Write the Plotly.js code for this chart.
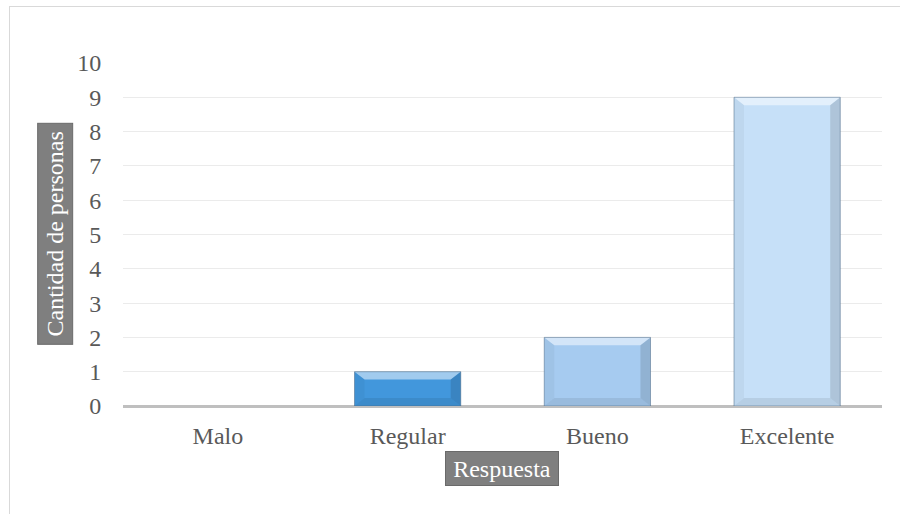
<!DOCTYPE html>
<html>
<head>
<meta charset="utf-8">
<script src="https://cdn.plot.ly/plotly-3.0.1.min.js"></script>
<style>
  html, body { margin: 0; padding: 0; background: #ffffff; }
  #wrap { position: relative; width: 900px; height: 514px; overflow: hidden; }
  #chart { position: absolute; left: 0; top: 0; width: 900px; height: 514px; }
  #frame { position: absolute; left: 9px; top: 6px; width: 1000px; height: 1000px;
           border: 1px solid #d9d9d9; pointer-events: none; }
</style>
</head>
<body>
<div id="wrap">
  <div id="chart"></div>
  <div id="frame"></div>
</div>
<script>
// Survey answers and how many people gave each one
const categories = ['Malo', 'Regular', 'Bueno', 'Excelente'];
const counts = [0, 1, 2, 9];
const barColors = ['#4297dc', '#4297dc', '#a6cbf0', '#c6e0f8'];
const yTickVals = [0, 1, 2, 3, 4, 5, 6, 7, 8, 9, 10];

const FONT = 'Liberation Serif, Times New Roman, serif';
const FONT_SIZE = 24;
const BAR_WIDTH = 0.56;

// Bevel facets drawn over each bar, in axis units
const BEVEL_DX = 0.053;
const BEVEL_DY = 0.23;

function poly(pts) {
  return 'M' + pts.map(p => p[0] + ',' + p[1]).join(' L') + ' Z';
}

const shapes = [];
counts.forEach((v, i) => {
  if (v <= 0) return;
  const x0 = i - BAR_WIDTH / 2, x1 = i + BAR_WIDTH / 2;
  const dy = Math.min(BEVEL_DY, v / 2);
  const facets = [
    { pts: [[x0, v], [x1, v], [x1 - BEVEL_DX, v - dy], [x0 + BEVEL_DX, v - dy]], fill: 'rgba(255,255,255,0.5)' },
    { pts: [[x0, 0], [x0, v], [x0 + BEVEL_DX, v - dy], [x0 + BEVEL_DX, dy]], fill: 'rgba(0,0,0,0.04)' },
    { pts: [[x1, 0], [x1, v], [x1 - BEVEL_DX, v - dy], [x1 - BEVEL_DX, dy]], fill: 'rgba(0,0,0,0.12)' },
    { pts: [[x0, 0], [x1, 0], [x1 - BEVEL_DX, dy], [x0 + BEVEL_DX, dy]], fill: 'rgba(0,0,0,0.08)' }
  ];
  facets.forEach(f => shapes.push({
    type: 'path', xref: 'x', yref: 'y', layer: 'above',
    path: poly(f.pts), fillcolor: f.fill, line: { width: 0 }
  }));
  shapes.push({
    type: 'rect', xref: 'x', yref: 'y', layer: 'above',
    x0: x0, x1: x1, y0: 0, y1: v,
    line: { color: 'rgba(70,100,130,0.5)', width: 1 }
  });
});

const trace = {
  type: 'bar',
  x: categories,
  y: counts,
  width: BAR_WIDTH,
  marker: { color: barColors, line: { width: 0 } },
  hoverinfo: 'x+y'
};

const titleBox = {
  xref: 'paper', yref: 'paper',
  xanchor: 'center', yanchor: 'middle',
  showarrow: false,
  font: { family: FONT, size: FONT_SIZE, color: '#ffffff' },
  bgcolor: '#7f7f7f',
  bordercolor: '#6a6a6a',
  borderwidth: 1,
  borderpad: 1
};

const layout = {
  width: 900,
  height: 514,
  margin: { l: 123, r: 18, t: 63, b: 108 },
  paper_bgcolor: '#ffffff',
  plot_bgcolor: '#ffffff',
  showlegend: false,
  font: { family: FONT, size: FONT_SIZE, color: '#595959' },
  xaxis: {
    type: 'category',
    range: [-0.5, 3.5],
    showgrid: false,
    showline: false,
    zeroline: false,
    ticks: 'outside',
    ticklen: 8,
    tickcolor: 'rgba(0,0,0,0)',
    tickfont: { family: FONT, size: FONT_SIZE, color: '#595959' },
    fixedrange: true
  },
  yaxis: {
    range: [0, 10],
    tickvals: yTickVals,
    showgrid: true,
    gridcolor: '#ebebeb',
    gridwidth: 1,
    zeroline: true,
    zerolinecolor: '#bfbfbf',
    zerolinewidth: 3,
    showline: false,
    ticks: 'outside',
    ticklen: 16,
    tickcolor: 'rgba(0,0,0,0)',
    tickfont: { family: FONT, size: FONT_SIZE, color: '#595959' },
    fixedrange: true
  },
  shapes: shapes,
  annotations: [
    Object.assign({}, titleBox, {
      text: 'Cantidad de personas',
      x: -0.0896, y: 0.502,
      textangle: -90,
      width: 218, height: 32
    }),
    Object.assign({}, titleBox, {
      text: 'Respuesta',
      x: 0.4993, y: -0.183,
      width: 110, height: 31
    })
  ]
};

Plotly.newPlot('chart', [trace], layout, { displayModeBar: false, staticPlot: true });
</script>
</body>
</html>
